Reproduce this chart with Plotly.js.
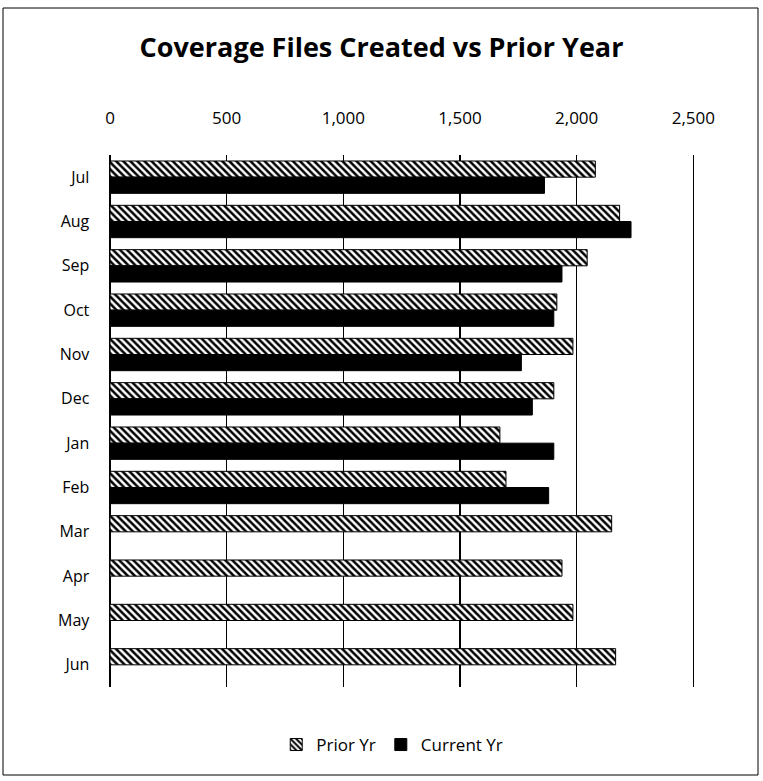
<!DOCTYPE html>
<html>
<head>
<meta charset="utf-8">
<script src="https://cdn.plot.ly/plotly-3.0.1.min.js"></script>
<style>
  html, body { margin: 0; padding: 0; background: #fff; }
  #chart { width: 763px; height: 781px; }
</style>
</head>
<body>
<div id="chart"></div>
<script>
const months = ["Jul", "Aug", "Sep", "Oct", "Nov", "Dec", "Jan", "Feb", "Mar", "Apr", "May", "Jun"];
const priorYr = [2080, 2184, 2045, 1915, 1984, 1902, 1671, 1697, 2150, 1937, 1984, 2167];
const currentMonths = ["Jul", "Aug", "Sep", "Oct", "Nov", "Dec", "Jan", "Feb"];
const currentYr = [1862, 2233, 1937, 1902, 1763, 1810, 1902, 1880];
const xTicks = [0, 500, 1000, 1500, 2000, 2500];

const font = "Open Sans, Noto Sans, sans-serif";

const traces = [
  {
    type: "bar", orientation: "h", name: "Prior Yr",
    y: months, x: priorYr,
    marker: {
      color: "#ffffff",
      pattern: { shape: "\\", fgcolor: "#000000", bgcolor: "#ffffff", size: 5, solidity: 0.5 },
      line: { color: "#000000", width: 1 }
    }
  },
  {
    type: "bar", orientation: "h", name: "Current Yr",
    y: currentMonths, x: currentYr,
    marker: { color: "#000000", line: { color: "#000000", width: 1 } }
  }
];

const layout = {
  width: 763, height: 781,
  paper_bgcolor: "#ffffff", plot_bgcolor: "#ffffff",
  margin: { l: 110, r: 65, t: 155, b: 94 },
  font: { family: font, color: "#000000", size: 15 },
  title: {
    text: "<b>Coverage Files Created vs Prior Year</b>",
    font: { family: font, size: 27, color: "#000000" },
    x: 0.5, xanchor: "center", y: 1 - 48 / 781, yanchor: "middle"
  },
  barmode: "group", bargap: 0.27, bargroupgap: 0,
  xaxis: {
    side: "top", range: [0, 2520], tickvals: xTicks, tickformat: ",",
    showgrid: true, gridcolor: "#000000", gridwidth: 1.5,
    zeroline: true, zerolinecolor: "#000000", zerolinewidth: 1.5,
    ticks: "", ticklabelstandoff: 27,
    tickfont: { family: font, size: 17, color: "#000000" },
    showline: false, fixedrange: true
  },
  yaxis: {
    categoryorder: "array", categoryarray: months,
    autorange: "reversed",
    showgrid: false, showline: true, linecolor: "#000000", linewidth: 1.5,
    ticks: "", ticklabelstandoff: 16,
    tickfont: { family: font, size: 16, color: "#000000" },
    fixedrange: true
  },
  legend: {
    orientation: "h", x: 0.48, xanchor: "center", y: -0.109, yanchor: "middle",
    font: { family: font, size: 17, color: "#000000" },
    traceorder: "normal", itemwidth: 30
  },
  shapes: [
    {
      type: "rect", xref: "paper", yref: "paper",
      x0: (3 - 110) / 588, x1: (758 - 110) / 588,
      y0: (687 - 775) / 532, y1: (687 - 8) / 532,
      line: { color: "#000000", width: 1 }, fillcolor: "rgba(0,0,0,0)", layer: "below"
    }
  ],
  showlegend: true
};

Plotly.newPlot("chart", traces, layout, { displayModeBar: false, staticPlot: true });
</script>
</body>
</html>
